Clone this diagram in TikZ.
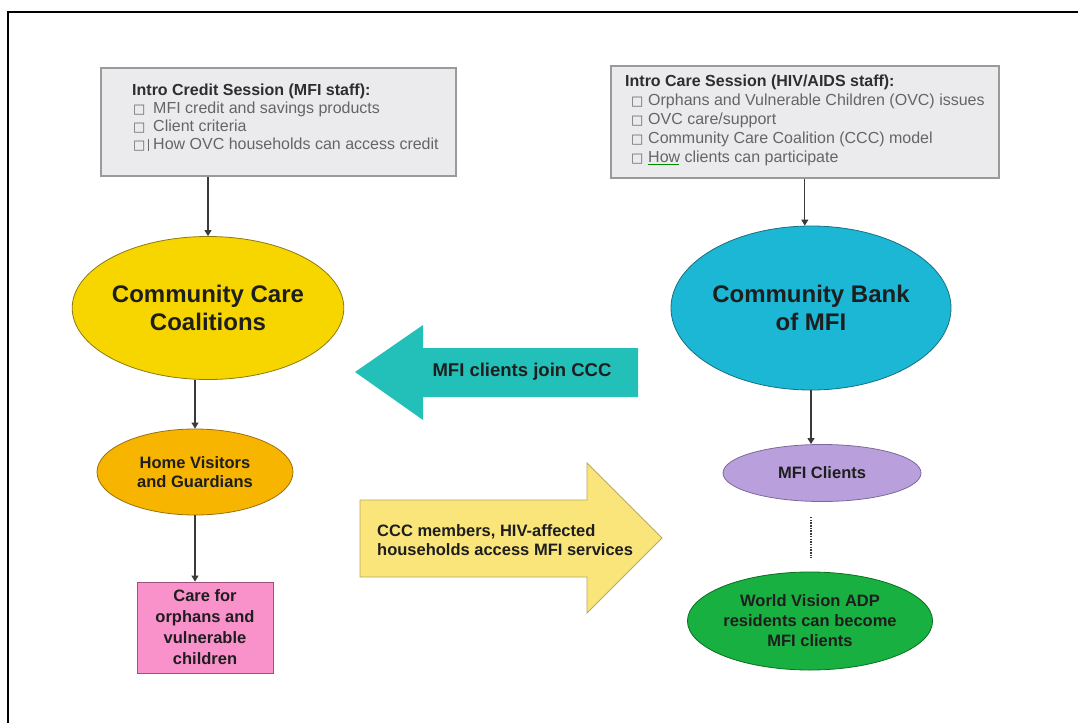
\documentclass[tikz,border=0pt]{standalone}
\usepackage{fontspec}
\setmainfont{Liberation Sans}
\newfontfamily\symfont{DejaVu Sans}
\usetikzlibrary{shapes.geometric,arrows.meta}
\definecolor{boxfill}{HTML}{EBEBED}
\definecolor{boxline}{HTML}{9A9A9A}
\definecolor{titletxt}{HTML}{2E2E2E}
\definecolor{itemtxt}{HTML}{656565}
\definecolor{shapetxt}{HTML}{1E1E1E}
\definecolor{cccfill}{HTML}{F7D600}
\definecolor{cccline}{HTML}{8A7A10}
\definecolor{hvfill}{HTML}{F7B500}
\definecolor{hvline}{HTML}{9A7010}
\definecolor{carefill}{HTML}{F991CB}
\definecolor{careline}{HTML}{A0507A}
\definecolor{bankfill}{HTML}{1BB7D5}
\definecolor{bankline}{HTML}{1A6F80}
\definecolor{mfifill}{HTML}{B9A0DC}
\definecolor{mfiline}{HTML}{7A6A9A}
\definecolor{wvfill}{HTML}{18B040}
\definecolor{wvline}{HTML}{0A7020}
\definecolor{tealfill}{HTML}{22C0B8}
\definecolor{yelfill}{HTML}{FAE57A}
\definecolor{yelline}{HTML}{B8A860}
\definecolor{connline}{HTML}{3A3A3A}
\newcommand{\lbul}{\makebox[21pt][l]{\hspace{1pt}{\symfont\fontsize{13}{13}\selectfont □}}}
\newcommand{\rbul}{\makebox[23pt][l]{\hspace{6pt}{\symfont\fontsize{13}{13}\selectfont □}}}
\tikzset{
  infobox/.style={rectangle, draw=boxline, fill=boxfill, line width=1.6pt, anchor=north west, inner sep=0pt},
  infotext/.style={anchor=north west, align=left, inner sep=0pt, text=itemtxt},
  oval/.style={ellipse, draw, line width=0.8pt, inner sep=0pt, align=center, text=shapetxt},
  conn/.style={draw=connline, line width=1.1pt, -{Triangle[length=6pt,width=7pt]}},
  arrtext/.style={inner sep=0pt, text=shapetxt, font=\bfseries}
}
\begin{document}
\begin{tikzpicture}[x=1pt,y=-1pt]
\useasboundingbox (0,0) rectangle (1078,723);
\draw[line width=2.4pt] (8,723) -- (8,12) -- (1078,12);

% info boxes
\node[infobox, minimum width=355pt, minimum height=108pt] (box1) at (100,67) {};
\node[infotext, font=\fontsize{16}{18}\selectfont] (box1txt) at (132,84) {%
{\color{titletxt}\bfseries Intro Credit Session (MFI staff):}\\
\lbul MFI credit and savings products\\
\lbul Client criteria\\
\lbul\llap{\rule[-1pt]{1.6pt}{12pt}\hspace{4pt}}How OVC households can access credit};

\node[infobox, minimum width=388pt, minimum height=112pt] (box2) at (610,65) {};
\node[infotext, font=\fontsize{16}{19}\selectfont] (box2txt) at (625,75) {%
{\color{titletxt}\bfseries Intro Care Session (HIV/AIDS staff):}\\
\rbul Orphans and Vulnerable Children (OVC) issues\\
\rbul OVC care/support\\
\rbul Community Care Coalition (CCC) model\\
\rbul \rlap{\color{green!55!black}\rule[-2.5pt]{31pt}{0.8pt}}How clients can participate};

% left column
\node[oval, fill=cccfill, draw=cccline, minimum width=246pt, minimum height=143pt,
      font=\bfseries\fontsize{24}{28}\selectfont] (ccc) at (208,308) {Community Care\\Coalitions};
\node[oval, fill=hvfill, draw=hvline, minimum width=196pt, minimum height=86pt,
      font=\bfseries\fontsize{16.5}{19}\selectfont] (hv) at (195,472) {Home Visitors\\and Guardians};
\node[rectangle, fill=carefill, draw=careline, line width=0.8pt, minimum width=136pt, minimum height=91pt,
      inner sep=0pt, align=center, text=shapetxt, font=\bfseries\fontsize{16.5}{21}\selectfont]
      (care) at (205,627.5) {Care for\\orphans and\\vulnerable\\children};

% right column
\node[oval, fill=bankfill, draw=bankline, minimum width=280pt, minimum height=164pt,
      font=\bfseries\fontsize{24}{28}\selectfont] (bank) at (811,308) {Community Bank\\of MFI};
\node[oval, fill=mfifill, draw=mfiline, minimum width=198pt, minimum height=57pt,
      font=\bfseries\fontsize{16.5}{20}\selectfont] (mfi) at (822,473) {MFI Clients};
\node[oval, fill=wvfill, draw=wvline, minimum width=234pt, minimum height=98pt,
      font=\bfseries\fontsize{16.5}{20}\selectfont] (wv) at (810,621) {World Vision ADP\\residents can become\\MFI clients};

% connectors
\draw[conn] (ccc.north |- box1.south) -- (ccc.north);
\draw[conn] (hv.north |- ccc.south) -- (hv.north);
\draw[conn] (hv.south) -- (hv.south |- care.north);
\draw[conn] (box2.south) -- (box2.south |- bank.north);
\draw[conn] (bank.south) -- (bank.south |- mfi.north);
\draw[draw=connline, line width=1.3pt, dash pattern=on 1.5pt off 1.2pt, shorten <=15pt, shorten >=14pt]
      (bank.south |- mfi.south) -- (bank.south |- wv.north);

% big arrows
\fill[tealfill] (355,372) -- (423,325) -- (423,348) -- (638,348) -- (638,397) -- (423,397) -- (423,420) -- cycle;
\node[arrtext, font=\bfseries\fontsize{18.5}{22}\selectfont] (join) at (522,372) {MFI clients join CCC};

\filldraw[fill=yelfill, draw=yelline, line width=0.8pt]
  (360,500) -- (587,500) -- (587,463) -- (662,538) -- (587,613) -- (587,577) -- (360,577) -- cycle;
\node[arrtext, anchor=west, align=left, font=\bfseries\fontsize{16.5}{18.5}\selectfont] (access) at (377,540)
  {CCC members, HIV-affected\\households access MFI services};
\end{tikzpicture}
\end{document}
